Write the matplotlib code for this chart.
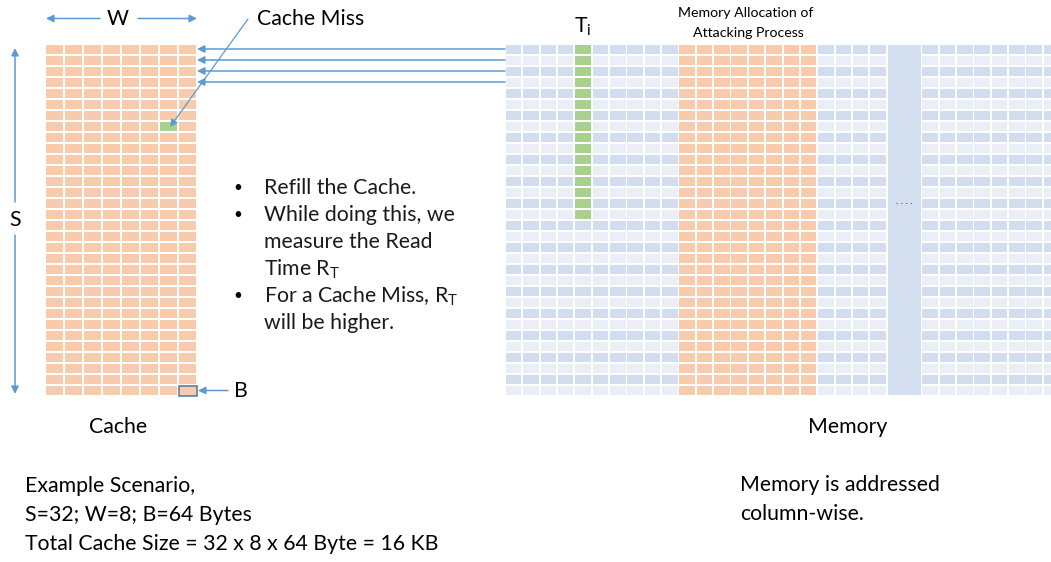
import matplotlib
matplotlib.use("Agg")
import matplotlib.pyplot as plt
from matplotlib.patches import Rectangle

plt.rcParams['font.family'] = ['Lato', 'DejaVu Sans']
plt.rcParams['mathtext.fontset'] = 'custom'
plt.rcParams['mathtext.rm'] = 'Lato'
plt.rcParams['mathtext.it'] = 'Lato:italic'

# cache: S sets x W ways, one missed line and one marked block
cache_sets = 32
cache_ways = 8
miss_set, miss_way = 7, 6
block_set, block_way = 31, 7
probe_sets = [0, 1, 2, 3]

# memory: columns of lines, target column T_i, attacker region, gap column
mem_rows = 32
mem_cols = 32
target_col = 4
target_rows = 16
attack_cols = [10, 11, 12, 13, 14, 15, 16, 17]
gap_cols = [22, 23]

bullets = [["Refill the Cache."],
           ["While doing this, we", "measure the Read", "Time R$_\\mathrm{T}$"],
           ["For a Cache Miss, R$_\\mathrm{T}$", "will be higher."]]
example_lines = ["Example Scenario,", "S=32; W=8; B=64 Bytes",
                 "Total Cache Size = 32 x 8 x 64 Byte = 16 KB"]
memory_note = ["Memory is addressed", "column-wise."]

ORANGE = '#F8CBAD'
GREEN = '#A9D18E'
BLUE_D = '#D2DDEF'
BLUE_L = '#E9EEF7'
ARROW = '#5B9BD5'

fig = plt.figure(figsize=(10.51, 5.62), dpi=100)
ax = fig.add_axes([0, 0, 1, 1])
ax.set_xlim(0, 1051)
ax.set_ylim(562, 0)
ax.axis('off')

# ---- cache grid
cx0, cy0, cw, ch, g = 45, 44, 19, 11, 1.8
for i in range(cache_sets):
    for j in range(cache_ways):
        col = GREEN if (i, j) == (miss_set, miss_way) else ORANGE
        ax.add_patch(Rectangle((cx0 + j*cw + g/2, cy0 + i*ch + g/2), cw - g, ch - g,
                               fc=col, ec='none'))
ax.add_patch(Rectangle((cx0 + block_way*cw + 0.5, cy0 + block_set*ch + 0.5), cw - 1, ch - 1,
                       fc=ORANGE, ec='#5E7FA6', lw=1.2))
cx1 = cx0 + cache_ways*cw
cy1 = cy0 + cache_sets*ch

# ---- memory grid
mx0, my0, mw, mh = 505, 44, 17.35, 11
for i in range(mem_rows):
    for j in range(mem_cols):
        if j in gap_cols:
            continue
        if j == target_col and i < target_rows:
            col = GREEN
        elif j in attack_cols:
            col = ORANGE
        else:
            col = BLUE_D if i % 2 == 0 else BLUE_L
        ax.add_patch(Rectangle((mx0 + j*mw + g/2, my0 + i*mh + g/2), mw - g, mh - g,
                               fc=col, ec='none', clip_on=True))
ax.add_patch(Rectangle((mx0 + gap_cols[0]*mw + g/2, my0 + g/2),
                       len(gap_cols)*mw - g, mem_rows*mh - g, fc='#D3DEEF', ec='none'))
ax.text(mx0 + (gap_cols[0] + 1)*mw, 202, '. . . .', ha='center', va='center',
        fontsize=7, color='#404040', fontweight='bold')

# ---- arrows
aprops = dict(arrowstyle='-|>', color=ARROW, lw=1.1, mutation_scale=11, shrinkA=0, shrinkB=0)
for s in probe_sets:
    y = cy0 + s*ch + ch/2 - 0.5
    ax.annotate('', xy=(cx1, y), xytext=(mx0, y), arrowprops=aprops)
ax.annotate('', xy=(cx0 + 1, 18.5), xytext=(100, 18.5), arrowprops=aprops)
ax.annotate('', xy=(cx1, 18.5), xytext=(138, 18.5), arrowprops=aprops)
ax.annotate('', xy=(15, 48), xytext=(15, 202), arrowprops=aprops)
ax.annotate('', xy=(15, 394), xytext=(15, 235), arrowprops=aprops)
ax.annotate('', xy=(cx0 + miss_way*cw + 11, cy0 + miss_set*ch + 6), xytext=(248, 19),
            arrowprops=dict(aprops, lw=0.9))
ax.annotate('', xy=(cx1 + 1, cy0 + block_set*ch + ch/2), xytext=(228, cy0 + block_set*ch + ch/2),
            arrowprops=aprops)

# ---- labels
fs = 15.3
ax.text(118, 19, 'W', ha='center', va='center', fontsize=fs)
ax.text(15, 220, 'S', ha='center', va='center', fontsize=fs)
ax.text(234, 391, 'B', ha='left', va='center', fontsize=fs)
ax.text(257, 19, 'Cache Miss', ha='left', va='center', fontsize=fs)
ax.text(mx0 + target_col*mw + mw/2, 27, 'T$_\\mathrm{i}$', ha='center', va='center', fontsize=fs)
ax.text(746, 13, 'Memory Allocation of', ha='center', va='center', fontsize=10.2)
ax.text(748, 33, 'Attacking Process', ha='center', va='center', fontsize=10.2)
ax.text(118, 427, 'Cache', ha='center', va='center', fontsize=fs)
ax.text(848, 427, 'Memory', ha='center', va='center', fontsize=fs)

y = 188
for item in bullets:
    ax.text(238, y, '\u2022', ha='center', va='center', fontsize=11)
    for line in item:
        ax.text(264, y, line, ha='left', va='center', fontsize=fs, color='#1a1a1a')
        y += 27
for k, line in enumerate(example_lines):
    ax.text(25, 486 + 29*k, line, ha='left', va='center', fontsize=fs)
for k, line in enumerate(memory_note):
    ax.text(740, 485 + 29*k, line, ha='left', va='center', fontsize=fs)

fig.savefig('out.png', dpi=100)
